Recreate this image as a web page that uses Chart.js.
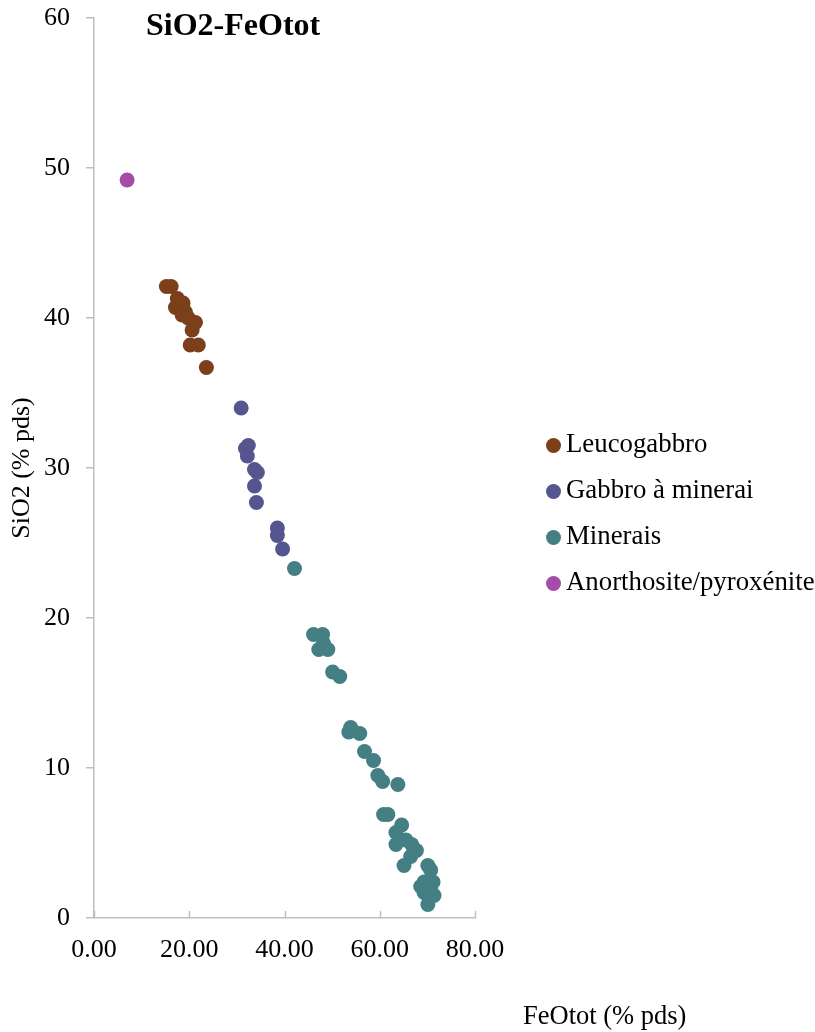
<!DOCTYPE html>
<html>
<head>
<meta charset="utf-8">
<script src="https://cdn.jsdelivr.net/npm/chart.js@4.4.1/dist/chart.umd.min.js"></script>
<style>
  html, body { margin: 0; padding: 0; background: #fff; }
  #wrap { position: relative; width: 815px; height: 1032px; font-family: "Liberation Serif", "Times New Roman", serif; }
  #c { position: absolute; left: 0; top: 0; }
  .txt { position: absolute; color: #000; white-space: nowrap; }
  #title { left: 146px; top: 6px; font-size: 32px; font-weight: bold; }
  #xtitle { left: 523px; top: 1000px; font-size: 26.5px; }
  #legend { position: absolute; left: 546px; top: 428px; font-size: 26.8px; }
  .li { height: 46px; display: flex; align-items: flex-start; }
  .dot { width: 15px; height: 15px; border-radius: 50%; margin-top: 10px; margin-right: 5px; }
</style>
</head>
<body>
<div id="wrap">
  <canvas id="c" width="815" height="1032"></canvas>
  <div id="title" class="txt">SiO2-FeOtot</div>
  <div id="xtitle" class="txt">FeOtot (% pds)</div>
  <div id="legend"></div>
</div>
<script>
// ---- data (FeOtot %, SiO2 %) ----
const seriesNames = ["Leucogabbro", "Gabbro à minerai", "Minerais", "Anorthosite/pyroxénite"];
const seriesColors = ["#7B3F1A", "#55558F", "#447F84", "#A34DA9"];

const leucogabbroFe = [15.2, 16.2, 17.5, 17.1, 18.7, 19.2, 18.5, 19.8, 21.3, 20.6, 20.2, 21.9, 23.6];
const leucogabbroSi = [42.1, 42.1, 41.3, 40.7, 41.0, 40.4, 40.2, 40.0, 39.7, 39.2, 38.2, 38.2, 36.7];

const gabbroFe = [30.9, 32.4, 31.8, 32.2, 33.7, 34.3, 33.7, 34.1, 38.5, 38.5, 39.6];
const gabbroSi = [34.0, 31.5, 31.3, 30.8, 29.9, 29.7, 28.8, 27.7, 26.0, 25.5, 24.6];

const mineraisFe = [42.1, 46.1, 48.0, 48.2, 49.1, 47.2, 50.1, 51.6,
  53.9, 53.5, 55.8, 56.8, 58.7, 59.6, 60.6, 63.8, 60.8, 61.7, 64.6, 63.4,
  65.5, 63.4, 67.2, 66.5, 65.1, 70.1, 70.7, 69.3, 71.2, 69.3, 71.4, 70.3,
  70.1, 70.7, 68.6, 66.7, 67.7];
const mineraisSi = [23.3, 18.9, 18.9, 18.3, 17.9, 17.9, 16.4, 16.1,
  12.7, 12.4, 12.3, 11.1, 10.5, 9.5, 9.1, 8.9, 6.9, 6.9, 6.2, 5.7,
  5.2, 4.9, 4.5, 4.1, 3.5, 3.5, 3.2, 2.4, 2.4, 1.7, 1.5, 1.4,
  0.9, 1.9, 2.1, 4.9, 4.5];

const anorthositeFe = [6.95];
const anorthositeSi = [49.2];

const xTickValues = [0, 20, 40, 60, 80];
const yTickValues = [0, 10, 20, 30, 40, 50, 60];

function pts(xs, ys) { return xs.map((x, i) => ({ x: x, y: ys[i] })); }
const allX = [leucogabbroFe, gabbroFe, mineraisFe, anorthositeFe];
const allY = [leucogabbroSi, gabbroSi, mineraisSi, anorthositeSi];

const datasets = seriesNames.map((n, i) => ({
  label: n,
  data: pts(allX[i], allY[i]),
  backgroundColor: seriesColors[i],
  borderColor: seriesColors[i],
  borderWidth: 0,
  pointRadius: 7.5,
  pointHoverRadius: 7.5
}));

// inward x tick marks
const xTickPlugin = {
  id: 'xTicks',
  afterDraw(chart) {
    const ctx = chart.ctx, xs = chart.scales.x, bottom = chart.chartArea.bottom;
    ctx.save();
    ctx.strokeStyle = '#BFBFBF';
    ctx.lineWidth = 1.5;
    xs.ticks.forEach(t => {
      const px = Math.round(xs.getPixelForValue(t.value)) + 0.5;
      ctx.beginPath();
      ctx.moveTo(px, bottom);
      ctx.lineTo(px, bottom - 7);
      ctx.stroke();
    });
    ctx.restore();
  }
};

const tickFont = { family: "'Liberation Serif', 'Times New Roman', serif", size: 26 };

new Chart(document.getElementById('c'), {
  type: 'scatter',
  data: { datasets: datasets },
  options: {
    responsive: false,
    animation: false,
    devicePixelRatio: 1,
    layout: { padding: { left: 0, top: 18, right: 340, bottom: 54 } },
    plugins: { legend: { display: false }, tooltip: { enabled: false }, title: { display: false } },
    scales: {
      x: {
        type: 'linear',
        min: 0, max: 80,
        afterBuildTicks(s) { s.ticks = xTickValues.map(v => ({ value: v })); },
        afterFit(s) { s.height = 60; s.paddingLeft = 0; s.paddingRight = 0; },
        ticks: {
          font: tickFont, color: '#000', padding: 17, maxRotation: 0,
          callback: v => Number(v).toFixed(2)
        },
        grid: { display: false, drawTicks: false },
        border: { display: true, color: '#BFBFBF', width: 1.5 }
      },
      y: {
        type: 'linear',
        min: 0, max: 60,
        afterBuildTicks(s) { s.ticks = yTickValues.map(v => ({ value: v })); },
        afterFit(s) { s.width = 94; s.paddingTop = 0; s.paddingBottom = 0; },
        ticks: { font: tickFont, color: '#000', padding: 16 },
        grid: { drawOnChartArea: false, drawTicks: true, tickLength: 8, color: '#BFBFBF', lineWidth: 1.5 },
        border: { display: true, color: '#BFBFBF', width: 1.5 },
        title: {
          display: true, text: 'SiO2 (% pds)', color: '#000',
          font: tickFont, padding: { top: 7, bottom: 6 }
        }
      }
    }
  },
  plugins: [xTickPlugin]
});

// HTML legend
const lg = document.getElementById('legend');
seriesNames.forEach((n, i) => {
  const row = document.createElement('div');
  row.className = 'li';
  const d = document.createElement('span');
  d.className = 'dot';
  d.style.background = seriesColors[i];
  const t = document.createElement('span');
  t.textContent = n;
  row.appendChild(d); row.appendChild(t);
  lg.appendChild(row);
});
</script>
</body>
</html>
